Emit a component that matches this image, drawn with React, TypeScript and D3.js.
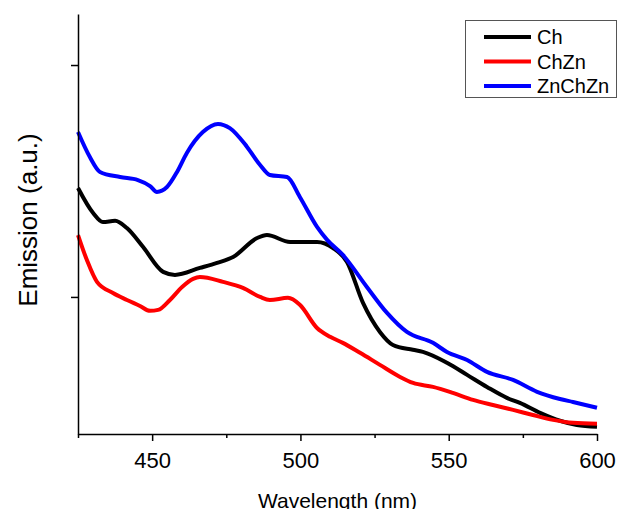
import React, { useRef, useEffect } from 'react';
import * as d3 from 'd3';

// wavelength (nm) / emission (a.u.)
const chWl = [425, 430.1, 433.4, 437.5, 441.5, 446.9, 453.7, 457.7, 466.1, 471.9, 477.3, 485.4, 488.7, 496.5, 505.6, 511, 515.7, 521.1, 526.8, 531.2, 537.9, 541.3, 549.4, 556.2, 562.9, 569.6, 574, 580.8, 587.5, 593.2, 600];
const chVal = [1.47, 1.362, 1.323, 1.328, 1.297, 1.216, 1.108, 1.095, 1.125, 1.147, 1.172, 1.254, 1.267, 1.237, 1.237, 1.211, 1.151, 0.974, 0.849, 0.793, 0.772, 0.763, 0.716, 0.664, 0.612, 0.565, 0.543, 0.5, 0.466, 0.448, 0.44];

const chZnWl = [425, 428, 431.4, 436.8, 441.5, 445.9, 449.3, 452, 456, 460.1, 463.8, 466.1, 473.9, 480.6, 486.4, 489.7, 495.8, 499.8, 505.6, 510, 514.3, 520.1, 526.8, 533.6, 538, 544.7, 551.4, 558.2, 564.9, 571.7, 578.4, 585.2, 591.9, 600];
const chZnVal = [1.267, 1.159, 1.065, 1.017, 0.987, 0.961, 0.94, 0.944, 0.987, 1.043, 1.078, 1.086, 1.065, 1.039, 1.0, 0.987, 0.996, 0.966, 0.866, 0.828, 0.802, 0.759, 0.707, 0.655, 0.629, 0.612, 0.586, 0.556, 0.534, 0.513, 0.491, 0.47, 0.457, 0.453];

const znChZnWl = [425, 429, 432.4, 439.2, 445.2, 449.3, 451.6, 455, 458.4, 461.7, 467.1, 472.2, 476.2, 482, 486.4, 489.7, 495.5, 499.8, 505.6, 509, 514.3, 522.4, 529.2, 535.9, 544.7, 549.4, 556.2, 562.9, 571.7, 579.8, 587.5, 591.9, 600];
const znChZnVal = [1.711, 1.603, 1.539, 1.517, 1.504, 1.478, 1.453, 1.474, 1.539, 1.621, 1.711, 1.746, 1.728, 1.647, 1.569, 1.526, 1.517, 1.431, 1.302, 1.246, 1.181, 1.043, 0.931, 0.849, 0.802, 0.763, 0.728, 0.677, 0.642, 0.591, 0.56, 0.547, 0.522];

const seriesNames = ['Ch', 'ChZn', 'ZnChZn'];
const seriesColors = ['#000000', '#ff0000', '#0000ff'];

const xMajorTicks = [450, 500, 550, 600];
const xMinorTicks = [425, 475, 525, 575];
const yTicks = [1, 2];

const App = () => {
  const svgRef = useRef<SVGSVGElement>(null);

  useEffect(() => {
    const width = 619;
    const height = 509;
    const svg = d3.select(svgRef.current)
      .attr('width', width)
      .attr('height', height);

    svg.selectAll('*').remove();

    const left = 78, right = 597, top = 14, bottom = 434;

    const x = d3.scaleLinear().domain([425, 600]).range([left, right]);
    const y = d3.scaleLinear().domain([0.409, 2.22]).range([bottom, top]);

    const series = [
      chWl.map((w, i) => [w, chVal[i]]),
      chZnWl.map((w, i) => [w, chZnVal[i]]),
      znChZnWl.map((w, i) => [w, znChZnVal[i]]),
    ];

    const line = d3.line<number[]>()
      .x(d => x(d[0]))
      .y(d => y(d[1]))
      .curve(d3.curveMonotoneX);

    // Draw curves (blue under? keep plot order Ch, ChZn, ZnChZn)
    series.forEach((s, i) => {
      svg.append('path')
        .datum(s)
        .attr('d', line)
        .attr('fill', 'none')
        .attr('stroke', seriesColors[i])
        .attr('stroke-width', 4)
        .attr('stroke-linejoin', 'round');
    });

    // X axis
    const xAxis = svg.append('g').attr('transform', `translate(0, ${bottom})`);
    xAxis.call(d3.axisBottom(x).tickValues(xMajorTicks).tickSize(7).tickSizeOuter(0).tickFormat(d3.format('d')));
    xAxis.selectAll('.tick text')
      .attr('font-family', 'Liberation Sans, Arial, sans-serif')
      .attr('font-size', 22)
      .attr('fill', '#000')
      .attr('dy', null)
      .attr('y', 34);
    xAxis.select('.domain').attr('stroke', '#000').attr('stroke-width', 1.5);
    xAxis.selectAll('.tick line').attr('stroke-width', 1.5);

    const xMinor = svg.append('g').attr('transform', `translate(0, ${bottom})`);
    xMinor.call(d3.axisBottom(x).tickValues(xMinorTicks).tickSize(4).tickFormat(() => ''));
    xMinor.select('.domain').remove();
    xMinor.selectAll('.tick line').attr('stroke-width', 1.5);

    // Y axis (no labels)
    const yAxis = svg.append('g').attr('transform', `translate(${left}, 0)`);
    yAxis.call(d3.axisLeft(y).tickValues(yTicks).tickSize(7).tickSizeOuter(0).tickFormat(() => ''));
    yAxis.select('.domain').attr('stroke', '#000').attr('stroke-width', 1.5);
    yAxis.selectAll('.tick line').attr('stroke-width', 1.5);

    // Axis titles
    svg.append('text')
      .attr('x', (left + right) / 2)
      .attr('y', 508)
      .attr('text-anchor', 'middle')
      .attr('font-family', 'Liberation Sans, Arial, sans-serif')
      .attr('font-size', 21)
      .attr('fill', '#000')
      .text('Wavelength (nm)');

    svg.append('text')
      .attr('transform', 'translate(37, 220) rotate(-90)')
      .attr('text-anchor', 'middle')
      .attr('font-family', 'Liberation Sans, Arial, sans-serif')
      .attr('font-size', 26)
      .attr('fill', '#000')
      .text('Emission (a.u.)');

    // Legend
    const legend = svg.append('g');
    legend.append('rect')
      .attr('x', 465.5)
      .attr('y', 20.5)
      .attr('width', 151)
      .attr('height', 77)
      .attr('fill', '#fff')
      .attr('stroke', '#555')
      .attr('stroke-width', 1);

    seriesNames.forEach((name, i) => {
      const ly = 37 + i * 24.5;
      legend.append('line')
        .attr('x1', 484)
        .attr('x2', 531)
        .attr('y1', ly)
        .attr('y2', ly)
        .attr('stroke', seriesColors[i])
        .attr('stroke-width', 4);
      legend.append('text')
        .attr('x', 537)
        .attr('y', ly + 7)
        .attr('font-family', 'Liberation Sans, Arial, sans-serif')
        .attr('font-size', 20)
        .attr('fill', '#000')
        .text(name);
    });
  }, []);

  return <svg ref={svgRef} style={{ position: 'absolute', left: 0, top: 0 }}></svg>;
};

export default App;
